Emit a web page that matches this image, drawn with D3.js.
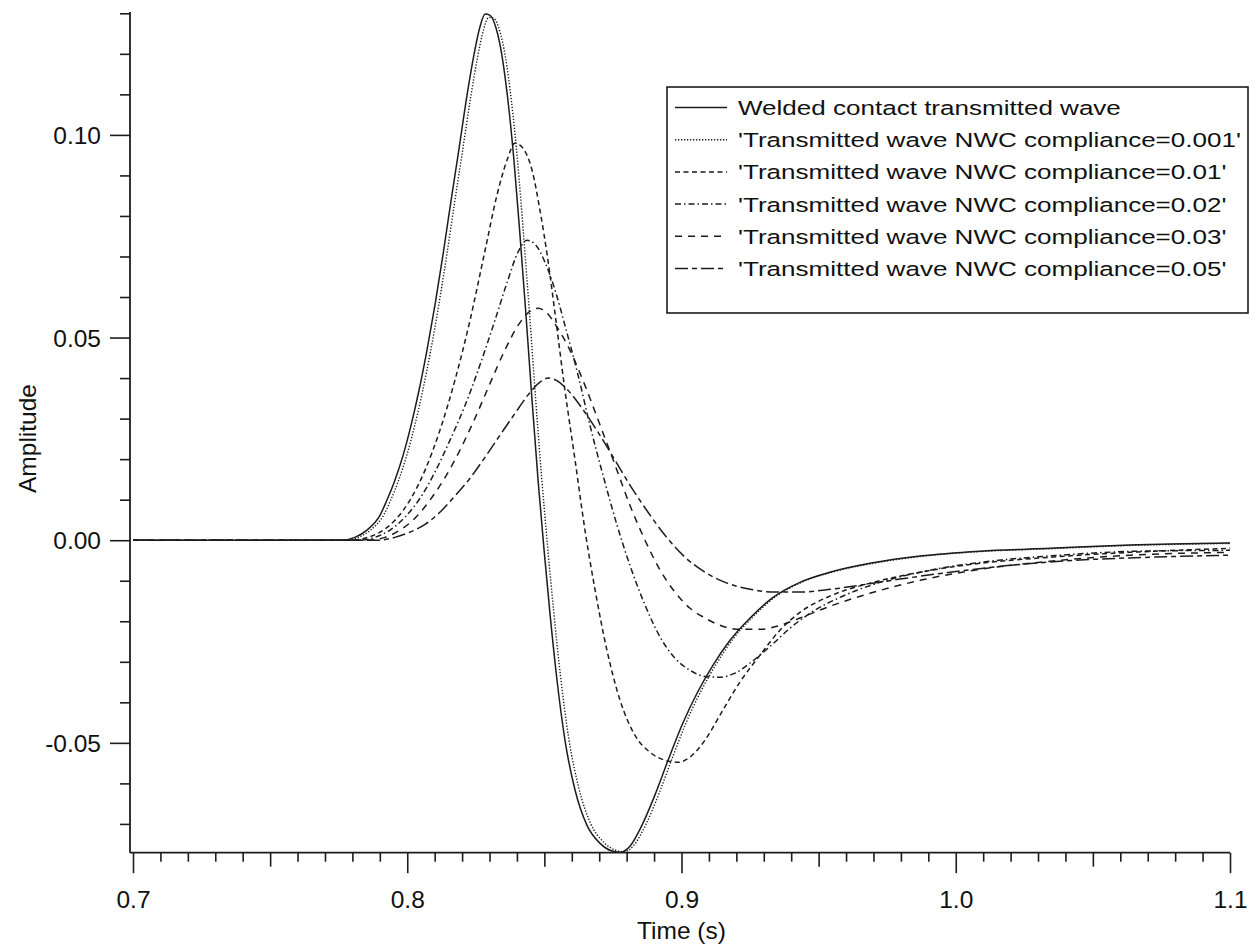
<!DOCTYPE html>
<html>
<head>
<meta charset="utf-8">
<script src="https://cdn.jsdelivr.net/npm/d3@7"></script>
<style>
  html, body { margin: 0; padding: 0; background: #fff; }
  svg { display: block; }
  text { font-family: "Liberation Sans", Arial, sans-serif; fill: #111; }
</style>
</head>
<body>
<svg id="chart" width="1257" height="949"></svg>
<script>
// ---- data: [time (s), amplitude] ----
const welded = [
  [0.7000, 0], [0.7762, 0], [0.7809, 0.0007], [0.7853, 0.0025], [0.7901, 0.0062],
  [0.7926, 0.0099], [0.7955, 0.0148], [0.7985, 0.0210], [0.8014, 0.0284], [0.8043, 0.0370],
  [0.8072, 0.0469], [0.8101, 0.0580], [0.8130, 0.0703], [0.8160, 0.0839], [0.8189, 0.0967],
  [0.8218, 0.1098], [0.8243, 0.1197], [0.8265, 0.1266], [0.8284, 0.1298], [0.8302, 0.1295],
  [0.8324, 0.1263], [0.8345, 0.1197], [0.8367, 0.1086], [0.8389, 0.0938], [0.8411, 0.0753],
  [0.8433, 0.0555], [0.8455, 0.0345], [0.8477, 0.0148], [0.8499, -0.0025], [0.8521, -0.0185],
  [0.8546, -0.0345], [0.8575, -0.0493], [0.8612, -0.0617], [0.8655, -0.0703], [0.8703, -0.0748],
  [0.8747, -0.0767], [0.8776, -0.0770], [0.8812, -0.0755], [0.8856, -0.0703], [0.8903, -0.0629],
  [0.8951, -0.0543], [0.9002, -0.0456], [0.9057, -0.0377], [0.9115, -0.0308], [0.9177, -0.0247],
  [0.9250, -0.0192], [0.9330, -0.0143], [0.9432, -0.0104], [0.9541, -0.0079], [0.9687, -0.0057],
  [0.9870, -0.0039], [1.0088, -0.0027], [1.0344, -0.0020], [1.0635, -0.0012], [1.1000, -0.0007]
];
const nwc0001 = [
  [0.7000, 0], [0.7775, 0], [0.7822, 0.0007], [0.7866, 0.0025], [0.7914, 0.0062],
  [0.7939, 0.0098], [0.7968, 0.0147], [0.7998, 0.0209], [0.8027, 0.0282], [0.8056, 0.0368],
  [0.8085, 0.0466], [0.8114, 0.0577], [0.8143, 0.0699], [0.8173, 0.0835], [0.8202, 0.0962],
  [0.8231, 0.1092], [0.8256, 0.1190], [0.8278, 0.1259], [0.8297, 0.1290], [0.8315, 0.1288],
  [0.8337, 0.1257], [0.8358, 0.1192], [0.8380, 0.1083], [0.8402, 0.0937], [0.8424, 0.0754],
  [0.8446, 0.0558], [0.8468, 0.0350], [0.8490, 0.0155], [0.8512, -0.0017], [0.8534, -0.0176],
  [0.8559, -0.0336], [0.8588, -0.0485], [0.8625, -0.0610], [0.8668, -0.0698], [0.8716, -0.0745],
  [0.8760, -0.0765], [0.8790, -0.0769], [0.8826, -0.0753], [0.8871, -0.0700], [0.8918, -0.0625],
  [0.8966, -0.0538], [0.9017, -0.0450], [0.9072, -0.0371], [0.9130, -0.0302], [0.9190, -0.0242],
  [0.9262, -0.0188], [0.9340, -0.0141], [0.9440, -0.0103], [0.9548, -0.0079], [0.9692, -0.0058],
  [0.9873, -0.0040], [1.0090, -0.0028], [1.0345, -0.0021], [1.0635, -0.0013], [1.1000, -0.0008]
];
const nwc001 = [
  [0.7000, 0], [0.7799, 0], [0.7846, 0.0005], [0.7901, 0.0020], [0.7955, 0.0049],
  [0.8010, 0.0099], [0.8065, 0.0173], [0.8119, 0.0271], [0.8174, 0.0395], [0.8229, 0.0543],
  [0.8284, 0.0716], [0.8327, 0.0851], [0.8364, 0.0938], [0.8393, 0.0980], [0.8422, 0.0967],
  [0.8455, 0.0913], [0.8484, 0.0814], [0.8513, 0.0691], [0.8542, 0.0543], [0.8575, 0.0370],
  [0.8612, 0.0197], [0.8648, 0.0025], [0.8685, -0.0123], [0.8728, -0.0271], [0.8776, -0.0395],
  [0.8830, -0.0481], [0.8885, -0.0523], [0.8940, -0.0543], [0.8987, -0.0548], [0.9031, -0.0535],
  [0.9086, -0.0493], [0.9140, -0.0432], [0.9213, -0.0350], [0.9286, -0.0284], [0.9359, -0.0222],
  [0.9432, -0.0178], [0.9541, -0.0138], [0.9687, -0.0106], [0.9870, -0.0079], [1.0088, -0.0057],
  [1.0344, -0.0042], [1.0635, -0.0030], [1.1000, -0.0020]
];
const nwc002 = [
  [0.7000, 0], [0.7828, 0], [0.7882, 0.0007], [0.7937, 0.0025], [0.7992, 0.0057],
  [0.8047, 0.0104], [0.8101, 0.0168], [0.8156, 0.0247], [0.8211, 0.0333], [0.8265, 0.0432],
  [0.8320, 0.0543], [0.8367, 0.0642], [0.8404, 0.0711], [0.8437, 0.0740], [0.8469, 0.0728],
  [0.8502, 0.0686], [0.8539, 0.0617], [0.8575, 0.0530], [0.8623, 0.0407], [0.8666, 0.0284],
  [0.8714, 0.0160], [0.8765, 0.0037], [0.8812, -0.0062], [0.8867, -0.0160], [0.8922, -0.0239],
  [0.8976, -0.0291], [0.9031, -0.0321], [0.9086, -0.0336], [0.9140, -0.0338], [0.9195, -0.0328],
  [0.9250, -0.0303], [0.9323, -0.0262], [0.9396, -0.0217], [0.9469, -0.0180], [0.9578, -0.0141],
  [0.9724, -0.0104], [0.9906, -0.0074], [1.0125, -0.0052], [1.0380, -0.0037], [1.0672, -0.0027],
  [1.1000, -0.0025]
];
const nwc003 = [
  [0.7000, 0], [0.7857, 0], [0.7919, 0.0007], [0.7974, 0.0025], [0.8028, 0.0054],
  [0.8083, 0.0099], [0.8138, 0.0155], [0.8192, 0.0222], [0.8247, 0.0301], [0.8302, 0.0387],
  [0.8356, 0.0469], [0.8404, 0.0530], [0.8448, 0.0565], [0.8477, 0.0572], [0.8510, 0.0560],
  [0.8546, 0.0526], [0.8593, 0.0469], [0.8648, 0.0382], [0.8703, 0.0284], [0.8758, 0.0185],
  [0.8812, 0.0086], [0.8867, 0.0000], [0.8922, -0.0074], [0.8976, -0.0128], [0.9031, -0.0168],
  [0.9086, -0.0192], [0.9140, -0.0210], [0.9213, -0.0220], [0.9286, -0.0220], [0.9359, -0.0210],
  [0.9432, -0.0192], [0.9541, -0.0163], [0.9687, -0.0131], [0.9870, -0.0099], [1.0088, -0.0072],
  [1.0344, -0.0052], [1.0635, -0.0037], [1.1000, -0.0030]
];
const nwc005 = [
  [0.7000, 0], [0.7893, 0], [0.7955, 0.0007], [0.8010, 0.0020], [0.8065, 0.0039],
  [0.8119, 0.0069], [0.8174, 0.0109], [0.8229, 0.0153], [0.8284, 0.0205], [0.8338, 0.0259],
  [0.8393, 0.0313], [0.8440, 0.0358], [0.8484, 0.0390], [0.8513, 0.0400], [0.8542, 0.0395],
  [0.8586, 0.0370], [0.8637, 0.0326], [0.8696, 0.0266], [0.8758, 0.0197], [0.8812, 0.0136],
  [0.8878, 0.0069], [0.8940, 0.0012], [0.9013, -0.0042], [0.9086, -0.0079], [0.9159, -0.0104],
  [0.9250, -0.0121], [0.9341, -0.0128], [0.9432, -0.0128], [0.9523, -0.0123], [0.9651, -0.0111],
  [0.9797, -0.0096], [0.9979, -0.0079], [1.0198, -0.0062], [1.0453, -0.0049], [1.0708, -0.0042],
  [1.1000, -0.0037]
];

const seriesNames = [
  "Welded contact transmitted wave",
  "'Transmitted wave NWC compliance=0.001'",
  "'Transmitted wave NWC compliance=0.01'",
  "'Transmitted wave NWC compliance=0.02'",
  "'Transmitted wave NWC compliance=0.03'",
  "'Transmitted wave NWC compliance=0.05'"
];
const seriesData = [welded, nwc0001, nwc001, nwc002, nwc003, nwc005];

const xMajorTicks = [0.7, 0.8, 0.9, 1.0, 1.1];
const xTickLabels = ["0.7", "0.8", "0.9", "1.0", "1.1"];
const yMajorTicks = [-0.05, 0.00, 0.05, 0.10];
const yTickLabels = ["-0.05", "0.00", "0.05", "0.10"];

// ---- styling ----
const dashStyles = [null, "1.3,1.7", "5,3.5", "6,3,1.5,3", "7,6", "13,4,5,4"];
const ink = "#1c1c1c";

const svg = d3.select("#chart");

const x = d3.scaleLinear().domain([0.7, 1.1]).range([133, 1230]);
const y = d3.scaleLinear().domain([-0.0771, 0.13]).range([852.7, 13.3]);
const axisX0 = 130;   // left axis position
const axisY0 = 852.7; // bottom axis position

// minor / mid tick sets
const xMinor = d3.range(70, 111).map(v => v / 100).filter(v => Math.round(v * 100) % 5 !== 0);
const xMid = [0.75, 0.85, 0.95, 1.05];
const yMinor = d3.range(-7, 14).map(v => v / 100).filter(v => Math.round(v * 100) % 5 !== 0);

// ---- bottom axis ----
const gx = svg.append("g").attr("transform", `translate(0,${axisY0})`);
gx.append("g").call(d3.axisBottom(x).tickValues(xMinor).tickSize(9).tickFormat(""));
gx.append("g").call(d3.axisBottom(x).tickValues(xMid).tickSize(14).tickFormat(""));
gx.append("g").call(d3.axisBottom(x).tickValues(xMajorTicks).tickSize(20.5)
  .tickFormat((d, i) => xTickLabels[i]))
  .call(g => g.selectAll("text").attr("font-size", "24.5px").attr("dy", null)
    .attr("y", 55.5).attr("fill", "#111"));
gx.selectAll(".domain").remove();
gx.selectAll("line").attr("stroke", ink).attr("stroke-width", 1.6);
gx.append("line").attr("x1", axisX0).attr("x2", x(1.1)).attr("y1", 0).attr("y2", 0)
  .attr("stroke", ink).attr("stroke-width", 1.8);

// ---- left axis ----
const gy = svg.append("g").attr("transform", `translate(${axisX0},0)`);
gy.append("g").call(d3.axisLeft(y).tickValues(yMinor).tickSize(10).tickFormat(""));
gy.append("g").call(d3.axisLeft(y).tickValues(yMajorTicks).tickSize(20)
  .tickFormat((d, i) => yTickLabels[i]))
  .call(g => g.selectAll("text").attr("font-size", "24.5px").attr("dy", null)
    .attr("y", 8.6).attr("x", -29).attr("fill", "#111"));
gy.selectAll(".domain").remove();
gy.selectAll("line").attr("stroke", ink).attr("stroke-width", 1.6);
gy.append("line").attr("x1", 0).attr("x2", 0).attr("y1", 12).attr("y2", axisY0)
  .attr("stroke", ink).attr("stroke-width", 1.8);

// ---- axis titles ----
svg.append("text").attr("x", 681.5).attr("y", 938.5).attr("text-anchor", "middle")
  .attr("font-size", "24.5px").text("Time (s)");
svg.append("text").attr("transform", "translate(36,438.5) rotate(-90)")
  .attr("text-anchor", "middle").attr("font-size", "24.5px").text("Amplitude");

// ---- curves ----
const line = d3.line().x(d => x(d[0])).y(d => y(d[1])).curve(d3.curveMonotoneX);
svg.append("g").selectAll("path").data(seriesData).join("path")
  .attr("d", d => line(d))
  .attr("fill", "none")
  .attr("stroke", ink)
  .attr("stroke-width", (d, i) => i === 1 ? 1.4 : 1.5)
  .attr("stroke-dasharray", (d, i) => dashStyles[i]);

// ---- legend ----
const legend = svg.append("g");
legend.append("rect").attr("x", 667).attr("y", 87).attr("width", 581).attr("height", 226)
  .attr("fill", "#fff").attr("stroke", ink).attr("stroke-width", 1.6);
const rows = legend.selectAll("g.row").data(seriesNames).join("g").attr("class", "row")
  .attr("transform", (d, i) => `translate(0,${107.5 + i * 32.2})`);
rows.append("line").attr("x1", 675).attr("x2", 727).attr("y1", 0).attr("y2", 0)
  .attr("stroke", ink).attr("stroke-width", 1.5)
  .attr("stroke-dasharray", (d, i) => dashStyles[i]);
rows.append("text").attr("transform", "translate(738,7.5) scale(1.27,1)")
  .attr("font-size", "20.5px").text(d => d);
</script>
</body>
</html>
